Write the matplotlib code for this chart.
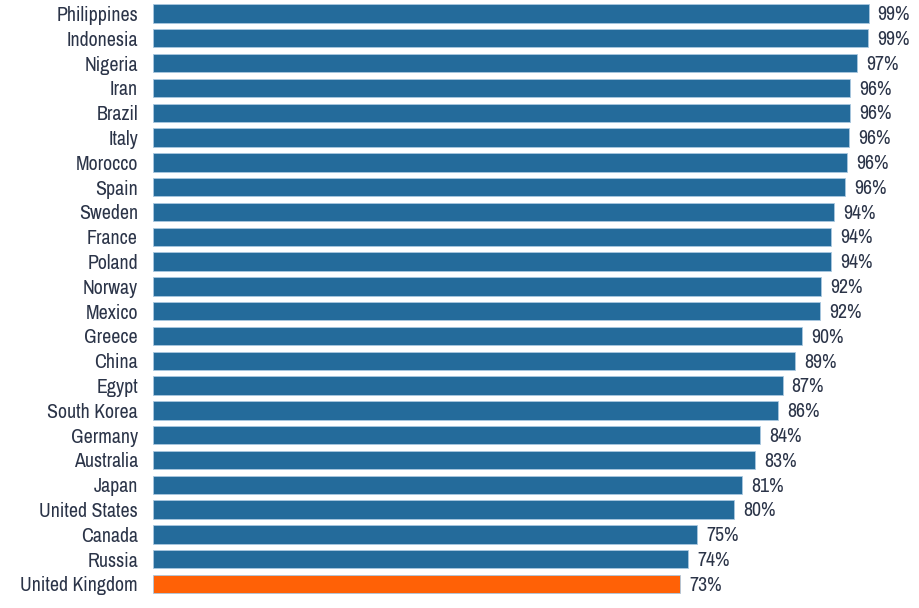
import matplotlib
matplotlib.use("Agg")
import matplotlib.pyplot as plt
from matplotlib import font_manager

countries = ["Philippines", "Indonesia", "Nigeria", "Iran", "Brazil", "Italy", "Morocco",
             "Spain", "Sweden", "France", "Poland", "Norway", "Mexico", "Greece", "China",
             "Egypt", "South Korea", "Germany", "Australia", "Japan", "United States",
             "Canada", "Russia", "United Kingdom"]
values = [99.0, 98.9, 97.4, 96.4, 96.4, 96.3, 96.0, 95.7, 94.2, 93.8, 93.8, 92.4, 92.3,
          89.8, 88.8, 87.1, 86.5, 84.0, 83.3, 81.5, 80.4, 75.3, 74.0, 72.9]
labels = ["99%", "99%", "97%", "96%", "96%", "96%", "96%", "96%", "94%", "94%", "94%",
          "92%", "92%", "90%", "89%", "87%", "86%", "84%", "83%", "81%", "80%", "75%",
          "74%", "73%"]
highlight = "United Kingdom"

names = {f.name for f in font_manager.fontManager.ttflist}
fam = "DejaVu Sans"
for cand in ["Liberation Sans Narrow", "Archivo Narrow", "Barlow Semi Condensed"]:
    if cand in names:
        fam = cand
        break
plt.rcParams['font.family'] = [fam, "DejaVu Sans"]

W, H = 919, 608
fig = plt.figure(figsize=(W / 100, H / 100), dpi=100)
ax = fig.add_axes([153 / W, 1 - 596.4 / H, (912 - 153) / W, (596.4 - 1.1) / H])

blue = "#246b9b"
orange = "#ff6106"
text_c = "#2b3448"
fs = 14.3
colors = [orange if c == highlight else blue for c in countries]
y = list(range(len(countries)))
ax.barh(y, values, height=0.74, color=colors, edgecolor="#a9c8e0", linewidth=0.6)
for yi, v, lab in zip(y, values, labels):
    ax.text(v + 1.25, yi + 0.05, lab, va="center", ha="left", fontsize=fs, color=text_c)

ax.set_xlim(0, 105)
ax.set_ylim(len(countries) - 0.5, -0.5)
ax.set_yticks(y)
ax.set_yticklabels(countries, fontsize=fs, color=text_c)
ax.tick_params(axis="y", length=0, pad=10.8)
ax.set_xticks([])
for s in ax.spines.values():
    s.set_visible(False)

fig.savefig("out.png", dpi=100, facecolor="white")
